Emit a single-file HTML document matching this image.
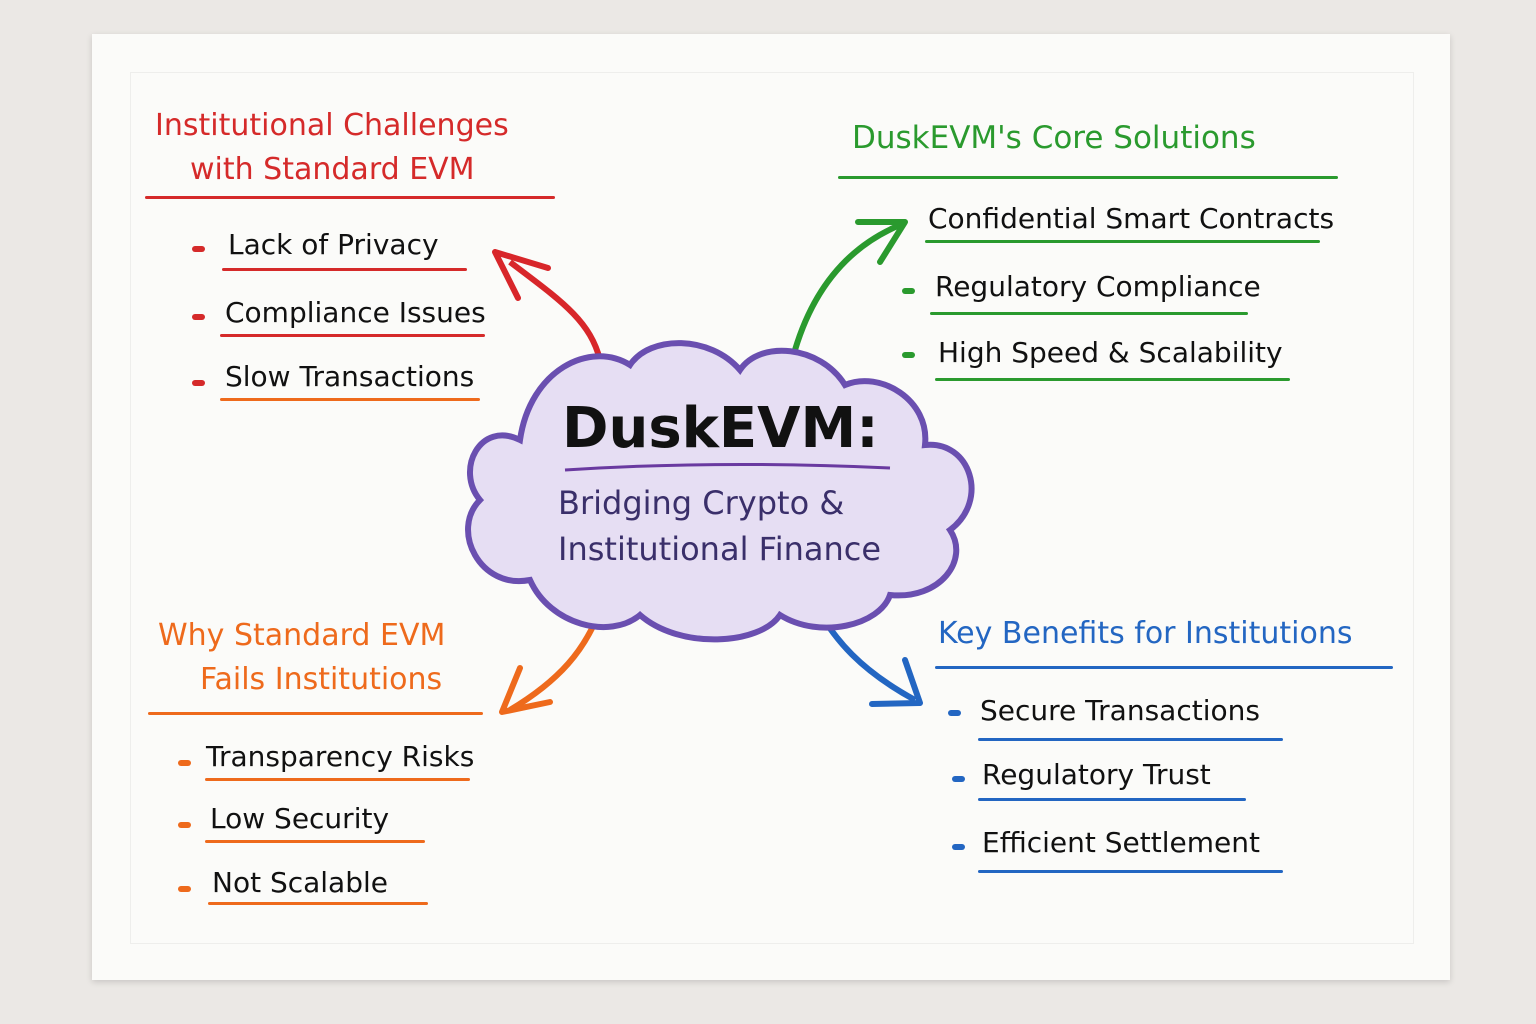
<!DOCTYPE html>
<html><head><meta charset="utf-8"><style>
body{margin:0;width:1536px;height:1024px;background:#ebe8e5;overflow:hidden;position:relative;font-family:"Liberation Sans",sans-serif}
.napkin{position:absolute;left:92px;top:34px;width:1358px;height:946px;background:#fbfbf9;box-shadow:0 2px 6px rgba(0,0,0,.15)}
.inner{position:absolute;left:130px;top:72px;width:1282px;height:870px;border:1px solid #eeeeec}
.t{position:absolute;white-space:nowrap;font-family:"DejaVu Sans",sans-serif;transform-origin:left center}
.ul{position:absolute;height:3px;border-radius:2px}
.dot{position:absolute;width:13px;height:6px;border-radius:3px}
</style></head><body>
<div class="napkin"></div><div class="inner"></div>
<svg width="1536" height="1024" style="position:absolute;left:0;top:0">
<defs>
<marker id="ar" markerWidth="10" markerHeight="10" refX="5" refY="5" orient="auto"><path d="M0,0 L10,5 L0,10" fill="none" stroke="context-stroke" stroke-width="2"/></marker>
</defs>
<path d="M600,360 C590,320 560,300 510,262" stroke="#d8262a" stroke-width="6" fill="none"/>
<path d="M495,252 L548,268 M495,252 L518,298" stroke="#d8262a" stroke-width="6" fill="none" stroke-linecap="round"/>
<path d="M795,350 C810,300 840,250 900,225" stroke="#2a9a2e" stroke-width="6" fill="none"/>
<path d="M905,222 L858,222 M905,222 L880,262" stroke="#2a9a2e" stroke-width="6" fill="none" stroke-linecap="round"/>
<path d="M600,610 C585,650 560,680 510,710" stroke="#ee6a1c" stroke-width="6" fill="none"/>
<path d="M502,712 L520,668 M502,712 L550,702" stroke="#ee6a1c" stroke-width="6" fill="none" stroke-linecap="round"/>
<path d="M815,605 C835,640 860,670 915,700" stroke="#2366c2" stroke-width="6" fill="none"/>
<path d="M920,703 L872,704 M920,703 L905,660" stroke="#2366c2" stroke-width="6" fill="none" stroke-linecap="round"/>
<path d="M520,440 C480,420 455,470 480,500 C450,530 480,590 530,580 C550,625 610,640 640,615 C680,650 760,645 780,615 C820,640 880,625 890,595 C940,600 970,560 950,530 C990,500 970,440 925,445 C930,400 880,370 845,385 C820,345 760,340 740,370 C710,335 650,335 630,365 C590,340 530,370 520,440 Z" fill="#e6def3" stroke="#6a4fb0" stroke-width="6"/>
<path d="M565,470 Q720,460 890,468" stroke="#6a3aa0" stroke-width="3" fill="none"/>
</svg>
<div class="t" style="left:562px;top:396px;font-size:56px;font-weight:bold;color:#111">DuskEVM:</div>
<div class="t" style="left:558px;top:484px;font-size:32px;color:#3a2f6a">Bridging Crypto &amp;</div>
<div class="t" style="left:558px;top:530px;font-size:32px;color:#3a2f6a">Institutional Finance</div>

<div class="t" style="left:155px;top:108px;font-size:30px;color:#d52a2a">Institutional Challenges</div>
<div class="t" style="left:190px;top:152px;font-size:30px;color:#d52a2a">with Standard EVM</div>
<div class="ul" style="left:145px;top:196px;width:410px;background:#d52a2a"></div>
<div class="dot" style="left:192px;top:246px;background:#d52a2a"></div>
<div class="t" style="left:228px;top:228px;font-size:28px;color:#111">Lack of Privacy</div>
<div class="ul" style="left:222px;top:268px;width:245px;background:#d52a2a"></div>
<div class="dot" style="left:192px;top:314px;background:#d52a2a"></div>
<div class="t" style="left:225px;top:296px;font-size:28px;color:#111">Compliance Issues</div>
<div class="ul" style="left:220px;top:334px;width:265px;background:#d52a2a"></div>
<div class="dot" style="left:192px;top:380px;background:#d52a2a"></div>
<div class="t" style="left:225px;top:360px;font-size:28px;color:#111">Slow Transactions</div>
<div class="ul" style="left:220px;top:398px;width:260px;background:#ee6a1c"></div>

<div class="t" style="left:852px;top:120px;font-size:31px;color:#2a9a2e">DuskEVM's Core Solutions</div>
<div class="ul" style="left:838px;top:176px;width:500px;background:#2a9a2e"></div>
<div class="t" style="left:928px;top:202px;font-size:28px;color:#111">Confidential Smart Contracts</div>
<div class="ul" style="left:925px;top:240px;width:395px;background:#2a9a2e"></div>
<div class="dot" style="left:902px;top:288px;background:#2a9a2e"></div>
<div class="t" style="left:935px;top:270px;font-size:28px;color:#111">Regulatory Compliance</div>
<div class="ul" style="left:930px;top:312px;width:318px;background:#2a9a2e"></div>
<div class="dot" style="left:902px;top:352px;background:#2a9a2e"></div>
<div class="t" style="left:938px;top:336px;font-size:28px;color:#111">High Speed &amp; Scalability</div>
<div class="ul" style="left:935px;top:378px;width:355px;background:#2a9a2e"></div>

<div class="t" style="left:158px;top:618px;font-size:30px;color:#ee6a1c">Why Standard EVM</div>
<div class="t" style="left:200px;top:662px;font-size:30px;color:#ee6a1c">Fails Institutions</div>
<div class="ul" style="left:148px;top:712px;width:335px;background:#ee6a1c"></div>
<div class="dot" style="left:178px;top:760px;background:#ee6a1c"></div>
<div class="t" style="left:206px;top:740px;font-size:28px;color:#111">Transparency Risks</div>
<div class="ul" style="left:205px;top:778px;width:265px;background:#ee6a1c"></div>
<div class="dot" style="left:178px;top:822px;background:#ee6a1c"></div>
<div class="t" style="left:210px;top:802px;font-size:28px;color:#111">Low Security</div>
<div class="ul" style="left:205px;top:840px;width:220px;background:#ee6a1c"></div>
<div class="dot" style="left:178px;top:886px;background:#ee6a1c"></div>
<div class="t" style="left:212px;top:866px;font-size:28px;color:#111">Not Scalable</div>
<div class="ul" style="left:208px;top:902px;width:220px;background:#ee6a1c"></div>

<div class="t" style="left:938px;top:616px;font-size:30px;color:#2366c2">Key Benefits for Institutions</div>
<div class="ul" style="left:935px;top:666px;width:458px;background:#2366c2"></div>
<div class="dot" style="left:948px;top:710px;background:#2366c2"></div>
<div class="t" style="left:980px;top:694px;font-size:28px;color:#111">Secure Transactions</div>
<div class="ul" style="left:978px;top:738px;width:305px;background:#2366c2"></div>
<div class="dot" style="left:952px;top:776px;background:#2366c2"></div>
<div class="t" style="left:982px;top:758px;font-size:28px;color:#111">Regulatory Trust</div>
<div class="ul" style="left:978px;top:798px;width:268px;background:#2366c2"></div>
<div class="dot" style="left:952px;top:844px;background:#2366c2"></div>
<div class="t" style="left:982px;top:826px;font-size:28px;color:#111">Efficient Settlement</div>
<div class="ul" style="left:978px;top:870px;width:305px;background:#2366c2"></div>
</body></html>
